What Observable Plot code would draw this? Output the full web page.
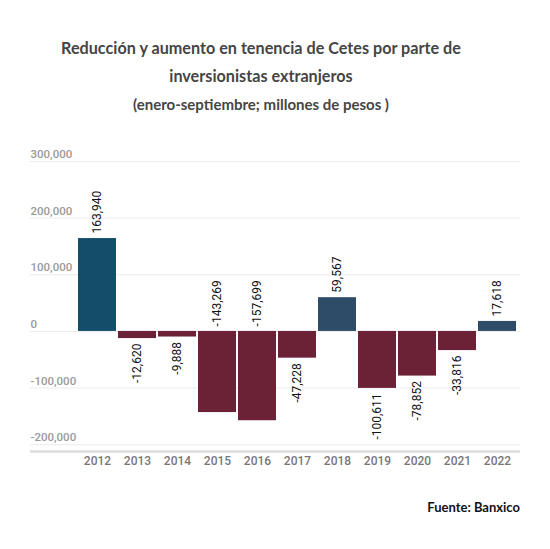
<!DOCTYPE html>
<html><head><meta charset="utf-8">
<script src="https://cdn.jsdelivr.net/npm/d3@7"></script>
<script src="https://cdn.jsdelivr.net/npm/@observablehq/plot@0.6"></script>
<style>
body{margin:0;background:#fff;}
#wrap{position:relative;width:550px;height:549px;overflow:hidden;}
.t{position:absolute;left:-14px;width:550px;text-align:center;font-family:Lato,"Open Sans",sans-serif;font-weight:700;color:#454545;}
#chart{position:absolute;left:0;top:130px;}
#cap{position:absolute;right:30px;top:499px;font-family:Lato,sans-serif;font-weight:700;font-size:13px;color:#111;}
</style></head>
<body><div id="wrap">
<div class="t" style="top:38px;font-size:16.2px;">Reducción y aumento en tenencia de Cetes por parte de</div>
<div class="t" style="top:66px;font-size:16.2px;">inversionistas extranjeros</div>
<div class="t" style="top:95px;font-size:15px;">(enero-septiembre; millones de pesos )</div>
<div id="chart"></div>
<div id="cap">Fuente: Banxico</div>
</div>
<script>
const years = ["2012","2013","2014","2015","2016","2017","2018","2019","2020","2021","2022"];
const values = [163940, -12620, -9888, -143269, -157699, -47228, 59567, -100611, -78852, -33816, 17618];
const barColors = ["#124d69","#6b2236","#6b2236","#6b2236","#6b2236","#6b2236","#2e4b68","#6b2236","#6b2236","#6b2236","#2e4b68"];
const yTicks = [300000, 200000, 100000, 0, -100000, -200000];

const data = years.map((y,i)=>({year:y, value:values[i], color:barColors[i]}));
const fmt = v => d3.format(",")(v).replace("\u2212","-");
const pos = data.filter(d=>d.value>=0);
const negSmall = data.filter(d=>d.value<0 && d.value>-130000);
const negBig = data.filter(d=>d.value<=-130000);

const chart = Plot.plot({
  width:550, height:351,
  marginTop:31, marginBottom:30, marginLeft:30, marginRight:30,
  x:{domain:years, range:[78,516], paddingInner:0.05, paddingOuter:0, label:null},
  y:{domain:[-212000,300000], label:null, axis:null},
  style:{fontFamily:"Roboto, sans-serif", background:"#fff"},
  marks:[
    Plot.ruleY(yTicks,{stroke:"#ebebeb", strokeWidth:1}),
    Plot.text(yTicks,{y:d=>d, text:d=>fmt(d), frameAnchor:"left", textAnchor:"start", dy:-7, fill:"#9a9a9a", fontSize:11.5, fontWeight:500}),
    Plot.ruleY([-212000],{stroke:"#dcdcdc", strokeWidth:2.5}),
    Plot.barY(data,{x:"year", y:"value", fill:"color"}),
    Plot.text(pos,{x:"year", y:"value", text:d=>fmt(d.value), rotate:-90, textAnchor:"start", dy:-5, fill:"#111", fontSize:12}),
    Plot.text(negSmall,{x:"year", y:"value", text:d=>fmt(d.value), rotate:-90, textAnchor:"end", dy:5, fill:"#111", fontSize:12}),
    Plot.text(negBig,{x:"year", y:()=>0, text:d=>fmt(d.value), rotate:-90, textAnchor:"start", dy:-5, fill:"#111", fontSize:12}),
    Plot.axisX({tickSize:0, tickPadding:5, fontSize:12, fill:"#777", fontWeight:500, label:null})
  ]
});
document.getElementById("chart").appendChild(chart);
</script>
</body></html>
